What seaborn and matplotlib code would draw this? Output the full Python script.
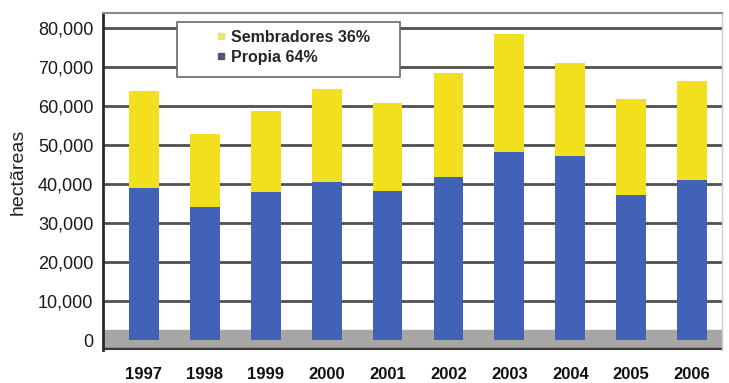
import matplotlib
matplotlib.use("Agg")
import matplotlib.pyplot as plt
import seaborn as sns
import pandas as pd
from matplotlib.lines import Line2D
from matplotlib.patches import Rectangle

years = ["1997", "1998", "1999", "2000", "2001", "2002", "2003", "2004", "2005", "2006"]
propia = [39000, 34200, 38000, 40500, 38200, 41800, 48100, 47100, 37200, 41000]
total = [63800, 52900, 58700, 64300, 60800, 68400, 78500, 71100, 61800, 66300]
series_labels = ["Sembradores 36%", "Propia 64%"]
yticks = [0, 10000, 20000, 30000, 40000, 50000, 60000, 70000, 80000]

df = pd.DataFrame({"year": years, "propia": propia, "total": total})

sns.set_theme(style="white")
plt.rcParams["font.family"] = ["Liberation Sans", "DejaVu Sans"]

YELLOW = "#F2DF1E"
BLUE = "#4162B6"

fig = plt.figure(figsize=(7.29, 3.83), dpi=100)
ax = fig.add_axes([103 / 729, (383 - 350) / 383, 619 / 729, 337 / 383])

# floor
ax.axhspan(-2560, 2500, color="#a8a6a4", zorder=0.5)
ax.axhline(-2300, color="#3a3a3a", lw=2.5, zorder=0.6)

sns.barplot(data=df, x="year", y="total", color=YELLOW, width=0.49,
            saturation=1, ax=ax, zorder=3, linewidth=0, edgecolor="none")
sns.barplot(data=df, x="year", y="propia", color=BLUE, width=0.49,
            saturation=1, ax=ax, zorder=4, linewidth=0, edgecolor="none")

ax.set_xlim(-0.67, 9.49)
ax.set_ylim(-2560, 83850)
ax.set_yticks(yticks)
ax.set_yticklabels([f"{v:,}" for v in yticks], fontsize=13, color="#1a1a1a")
for t in yticks[1:]:
    ax.axhline(t, color="#505050", lw=2, zorder=1)
ax.tick_params(axis="y", length=0, pad=7)
ax.tick_params(axis="x", length=0, pad=12)
for lbl in ax.get_xticklabels():
    lbl.set_fontweight("bold")
    lbl.set_fontsize(12)
    lbl.set_color("#111111")
ax.set_xlabel("")
ax.set_ylabel("")
fig.text(18 / 729, 1 - 172 / 383, "hectãreas", rotation=90, fontsize=14,
         ha="center", va="center", color="#222222")

ax.spines["left"].set_color("#2a2a2a")
ax.spines["left"].set_linewidth(2)
ax.spines["bottom"].set_visible(False)
ax.spines["top"].set_color("#8a8a8a")
ax.spines["top"].set_linewidth(1.5)
ax.spines["right"].set_color("#cccccc")
ax.spines["right"].set_linewidth(1)

# legend
x0 = (177 - 103) / 619
x1 = (400 - 103) / 619
y1 = (350 - 22) / 337
y0 = (350 - 77) / 337
ax.add_patch(Rectangle((x0, y0), x1 - x0, y1 - y0, transform=ax.transAxes,
                       facecolor="white", edgecolor="#6a6a6a", lw=1.2, zorder=5))
handles = [Line2D([], [], marker="s", ls="", markersize=5, color="#e6e67a"),
           Line2D([], [], marker="s", ls="", markersize=5, color="#50586e")]
leg = ax.legend(handles, series_labels, loc="upper left",
                bbox_to_anchor=((210 - 103) / 619, y1 - 0.005), frameon=False,
                prop={"weight": "bold", "size": 11.5}, handlelength=0.6,
                handletextpad=0.3, labelspacing=0.3, borderaxespad=0)
leg.set_zorder(6)

fig.savefig("out.png", dpi=100, facecolor="white")
